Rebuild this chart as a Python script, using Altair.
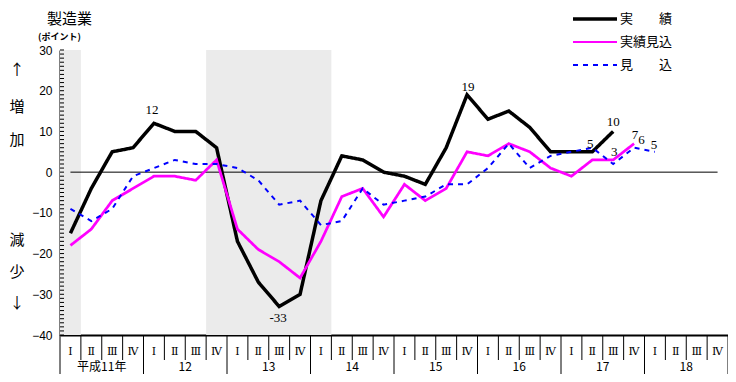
import altair as alt
import pandas as pd

# ---------------- data ----------------
quarter_labels = ["Ⅰ", "Ⅱ", "Ⅲ", "Ⅳ"]
year_labels = ["平成11年", "12", "13", "14", "15", "16", "17", "18"]
series_names = ["実　　績", "実績見込", "見　　込"]
series_colors = ["#000000", "#ff00ff", "#0000ff"]
series_widths = [3.5, 2, 2]
series_dashes = [[1, 0], [1, 0], [5, 5]]

# 実績 (actual), 平成11 I .. 17 III
jisseki = [-15, -4, 5, 6, 12, 10, 10, 6, -17, -27, -33, -30, -7, 4, 3, 0,
           -1, -3, 6, 19, 13, 15, 11, 5, 5, 5, 10]
# 実績見込 (estimate), 平成11 I .. 17 IV
jisseki_mikomi = [-18, -14, -7, -4, -1, -1, -2, 3, -14, -19, -22, -26, -17, -6, -4, -11,
                  -3, -7, -4, 5, 4, 7, 5, 1, -1, 3, 3, 7]
# 見込 (forecast), 平成11 I .. 18 I
mikomi = [-9, -12, -9, -1, 1, 3, 2, 2, 1, -2, -8, -7, -13, -12, -4, -8,
          -7, -6, -3, -3, 1, 7, 1, 4, 5, 6, 2, 6, 5]

# shaded periods (quarter index start, end)
shade_start = [0, 7]
shade_end = [1, 13]

# value labels: (series index, quarter index, text)
label_series = [0, 0, 0, 0, 2, 2, 1, 2, 2]
label_quarter = [4, 19, 10, 26, 25, 26, 27, 27, 28]
label_text = ["12", "19", "-33", "10", "5", "3", "7", "6", "5"]

# ---------------- layout ----------------
W, H = 668, 285
N_Q = 32

rows = []
for name, vals in zip(series_names, [jisseki, jisseki_mikomi, mikomi]):
    for i, v in enumerate(vals):
        rows.append({"series": name, "q": i + 0.5, "v": v})
df = pd.DataFrame(rows)

x_scale = alt.Scale(domain=[0, N_Q], nice=False, zero=False)
y_scale = alt.Scale(domain=[-40, 30], nice=False, zero=False)

JP = "Noto Sans CJK JP"
SERIF = "Liberation Serif"

shade_df = pd.DataFrame({"s": shade_start, "e": shade_end, "lo": [-40] * 2, "hi": [30] * 2})
shade = alt.Chart(shade_df).mark_rect(color="#ebebeb").encode(
    x=alt.X("s:Q", scale=x_scale,
            axis=alt.Axis(labels=False, ticks=False, grid=False, title=None,
                          domainColor="black", domainWidth=2)),
    x2="e:Q",
    y=alt.Y("lo:Q", scale=y_scale,
            axis=alt.Axis(values=list(range(-40, 31, 10)), ticks=False, grid=False, title=None,
                          labelFont="Liberation Sans", labelFontSize=12, labelColor="black",
                          labelPadding=8, domainColor="black", domainWidth=2)),
    y2="hi:Q",
)

minor = alt.Chart(pd.DataFrame({"v": list(range(-40, 31))})).mark_rule(
    color="black", strokeWidth=1).encode(
    y=alt.Y("v:Q", scale=y_scale), x=alt.value(0), x2=alt.value(4))

zero = alt.Chart(pd.DataFrame({"a": [0.5], "b": [N_Q - 0.5], "y": [0]})).mark_rule(
    color="black", strokeWidth=1).encode(
    x=alt.X("a:Q", scale=x_scale), x2="b:Q", y=alt.Y("y:Q", scale=y_scale))

lines = alt.Chart(df).mark_line(strokeCap="butt").encode(
    x=alt.X("q:Q", scale=x_scale),
    y=alt.Y("v:Q", scale=y_scale),
    color=alt.Color("series:N", scale=alt.Scale(domain=series_names, range=series_colors),
                    legend=None),
    strokeWidth=alt.StrokeWidth("series:N", scale=alt.Scale(domain=series_names,
                                                            range=series_widths), legend=None),
    strokeDash=alt.StrokeDash("series:N", scale=alt.Scale(domain=series_names,
                                                          range=series_dashes), legend=None),
)

# legend (drawn by hand, top right)
legend_layers = []
for k, (name, col, wd, dash) in enumerate(zip(series_names, series_colors, series_widths,
                                                 series_dashes)):
    ly = -31 + 23 * k
    d = pd.DataFrame({"t": [name]})
    legend_layers.append(alt.Chart(d).mark_rule(color=col, strokeWidth=wd, strokeDash=dash,
                                                strokeCap="butt").encode(
        x=alt.value(513), x2=alt.value(557), y=alt.value(ly)))
    legend_layers.append(alt.Chart(d).mark_text(font=JP, fontSize=13, color="black", align="left",
                                                baseline="middle").encode(
        x=alt.value(560), y=alt.value(ly), text="t:N"))

# value labels
all_vals = [jisseki, jisseki_mikomi, mikomi]
offsets = [(-2, -13), (1, -8), (-1, 11), (0, -9), (-2, -4),
           (1, -12), (1, -8.5), (7.5, -7.5), (-1, -7)]
label_layers = []
for (s, qi, t), (dx, dy) in zip(zip(label_series, label_quarter, label_text), offsets):
    d = pd.DataFrame({"q": [qi + 0.5], "v": [all_vals[s][qi]], "t": [t]})
    label_layers.append(
        alt.Chart(d).mark_text(font=SERIF, fontSize=13, color="black", dx=dx, dy=dy,
                               baseline="middle").encode(
            x=alt.X("q:Q", scale=x_scale), y=alt.Y("v:Q", scale=y_scale), text="t:N"))

# x axis: quarter row, year row, separators
qdf = pd.DataFrame({"q": [i + 0.5 for i in range(N_Q)],
                    "t": [quarter_labels[i % 4] for i in range(N_Q)]})
qtext = alt.Chart(qdf).mark_text(font="DejaVu Serif", fontSize=11, color="black",
                                 baseline="middle").encode(
    x=alt.X("q:Q", scale=x_scale), y=alt.value(H + 17), text="t:N")

ydf = pd.DataFrame({"q": [4 * k + 2 for k in range(len(year_labels))], "t": year_labels})
ytext = alt.Chart(ydf).mark_text(font=JP, fontSize=12, color="black", baseline="middle").encode(
    x=alt.X("q:Q", scale=x_scale), y=alt.value(H + 32), text="t:N")

qb = alt.Chart(pd.DataFrame({"b": [k for k in range(1, N_Q) if k % 4]})).mark_rule(
    color="black", strokeWidth=1).encode(
    x=alt.X("b:Q", scale=x_scale), y=alt.value(H), y2=alt.value(H + 25))
yb = alt.Chart(pd.DataFrame({"b": list(range(0, N_Q + 1, 4))})).mark_rule(
    color="black", strokeWidth=1).encode(
    x=alt.X("b:Q", scale=x_scale), y=alt.value(H), y2=alt.value(H + 40))

# free texts (title, unit, side captions)
def free_text(txt, x, y, size, align="center", weight="normal"):
    return alt.Chart(pd.DataFrame({"t": [txt]})).mark_text(
        font=JP, fontSize=size, color="black", align=align, baseline="middle",
        fontWeight=weight).encode(x=alt.value(x), y=alt.value(y), text="t:N")

texts = [
    free_text("製造業", -13, -31, 15, align="left"),
    free_text("(ポイント)", -22, -13, 9, align="left", weight="bold"),
    free_text("↑", -43, 20, 15),
    free_text("増", -43, 57, 15),
    free_text("加", -43, 90, 15),
    free_text("減", -43, 190, 15),
    free_text("少", -43, 222, 15),
    free_text("↓", -43, 253, 15),
]

chart = alt.layer(shade, minor, zero, lines, *legend_layers, *label_layers, qtext, ytext, qb, yb,
                  *texts).properties(
    width=W, height=H,
    autosize=alt.AutoSizeParams(type="none"),
    padding={"left": 52, "top": 42, "right": 0, "bottom": 39},
    background="white",
).configure_view(stroke=None)

chart.save("out.html", embed_options={"renderer": "svg", "actions": False})
